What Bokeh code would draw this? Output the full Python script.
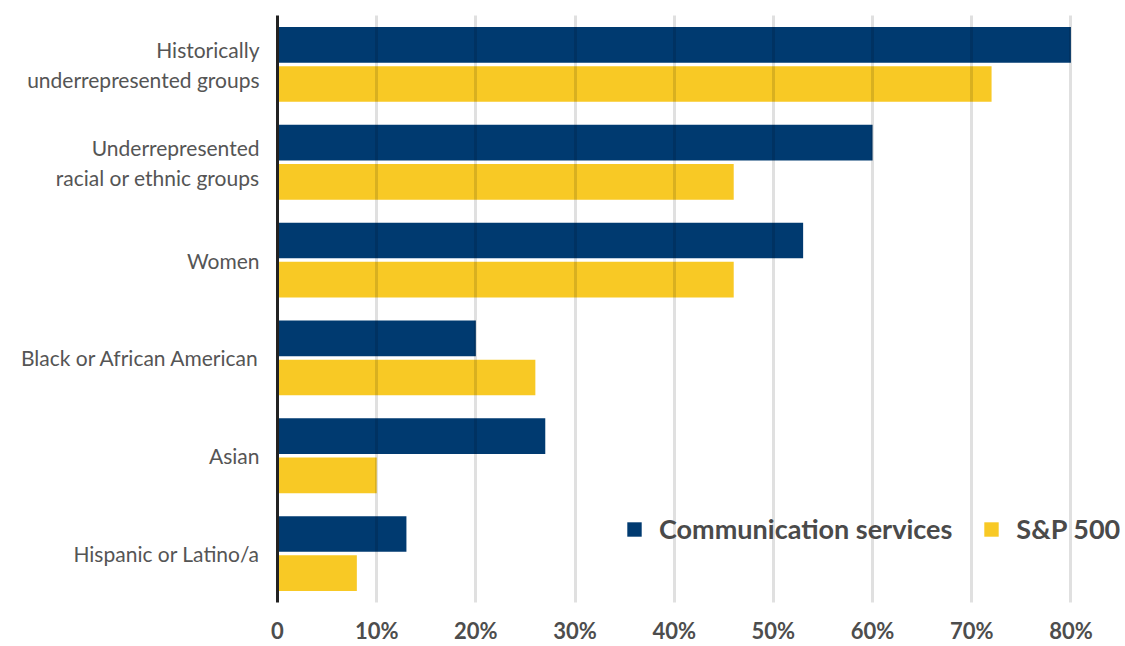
from bokeh.plotting import figure
from bokeh.models import ColumnDataSource, FactorRange, Range1d, FixedTicker, Legend, LegendItem
from bokeh.transform import dodge
from bokeh.embed import file_html
from bokeh.resources import INLINE

categories = [
    "Historically\nunderrepresented groups",
    "Underrepresented\nracial or ethnic groups",
    "Women",
    "Black or African American",
    "Asian",
    "Hispanic or Latino/a",
]
comm_services = [80, 60, 53, 20, 27, 13]
sp500 = [72, 46, 46, 26, 10, 8]
tick_values = [0, 10, 20, 30, 40, 50, 60, 70, 80]
tick_labels = ["0", "10%", "20%", "30%", "40%", "50%", "60%", "70%", "80%"]
series_names = ["Communication services", "S&P 500"]

NAVY = "#003a70"
YELLOW = "#f8c925"
FONT = "Lato"

src = ColumnDataSource(dict(cat=categories, comm=comm_services, sp=sp500))

p = figure(
    width=1125, height=646,
    y_range=FactorRange(factors=categories[::-1], range_padding=0),
    x_range=Range1d(0, 85),
    output_backend="svg", toolbar_location=None,
    min_border_left=277, min_border_right=5, min_border_top=15, min_border_bottom=44,
)
p.outline_line_color = None

r1 = p.hbar(y=dodge("cat", 0.2, range=p.y_range), right="comm", left=0, height=0.365,
            source=src, fill_color=NAVY, line_color=None)
r2 = p.hbar(y=dodge("cat", -0.2, range=p.y_range), right="sp", left=0, height=0.365,
            source=src, fill_color=YELLOW, line_color=None)

# grid drawn over bars
p.ygrid.grid_line_color = None
p.xgrid.ticker = FixedTicker(ticks=tick_values)
p.xgrid.grid_line_color = "black"
p.xgrid.grid_line_alpha = 0.12
p.xgrid.grid_line_width = 3
p.xgrid.level = "overlay"

xa = p.xaxis[0]
xa.ticker = FixedTicker(ticks=tick_values)
xa.major_label_overrides = {v: l for v, l in zip(tick_values, tick_labels)}
xa.axis_line_color = None
xa.major_tick_line_color = None
xa.minor_tick_line_color = None
xa.major_label_text_font = FONT
xa.major_label_text_font_style = "bold"
xa.major_label_text_font_size = "22px"
xa.major_label_text_color = "#4d4d4d"
xa.major_label_standoff = 8

ya = p.yaxis[0]
ya.axis_line_color = "#222222"
ya.axis_line_width = 3
ya.major_tick_line_color = None
ya.minor_tick_line_color = None
ya.major_label_text_font = FONT
ya.major_label_text_font_size = "21px"
ya.major_label_text_color = "#555555"
ya.major_label_standoff = 12

legend = Legend(
    items=[LegendItem(label=series_names[0], renderers=[r1]),
           LegendItem(label=series_names[1], renderers=[r2])],
    orientation="horizontal",
    location=(348, 57),
    glyph_width=18, glyph_height=18,
    label_standoff=16, spacing=30,
    padding=0, margin=0,
    background_fill_alpha=0, border_line_color=None,
    label_text_font=FONT, label_text_font_style="bold",
    label_text_font_size="27px", label_text_color="#4a4a4a",
)
p.add_layout(legend, "center")

open("out.html", "w").write(file_html(p, INLINE))
